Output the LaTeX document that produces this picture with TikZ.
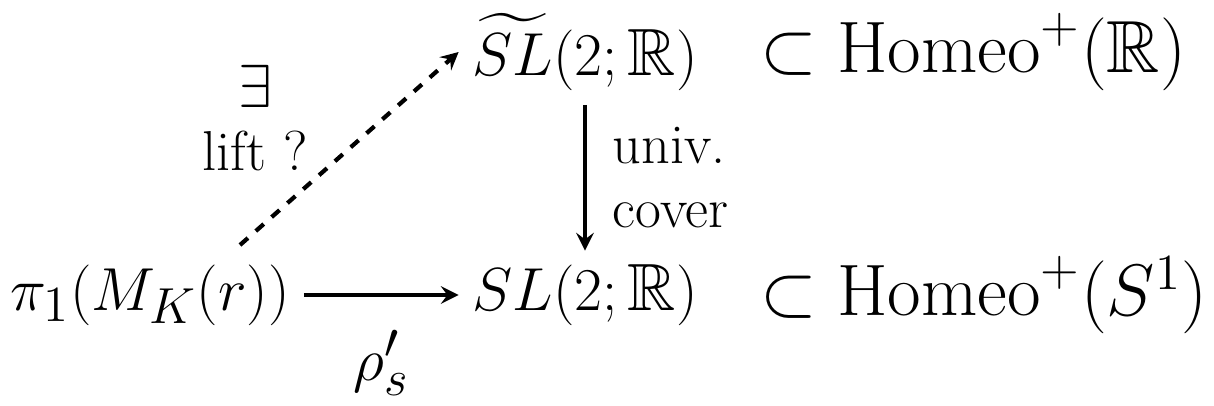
\documentclass[tikz,border=0pt]{standalone}
\usepackage{amsmath}
\usepackage{amssymb}
\usetikzlibrary{positioning}

\begin{document}
\begin{tikzpicture}[x=0.01cm, y=-0.01cm, >=stealth, line width=1.2pt,
    every node/.style={font=\fontsize{19}{23}\selectfont},
    lbl/.style={font=\fontsize{16}{18}\selectfont},
    incl/.style={font=\fontsize{21}{25}\selectfont}]
    \useasboundingbox (0,0) rectangle (1214,405);

    % groups
    \node (slt) at (585,52) {$\widetilde{SL}(2;\mathbb{R})$};
    \node[right=10pt of slt, incl] (homeoR) {$\subset \mathrm{Homeo}^{+}(\mathbb{R})$};
    \node (pi) at (150,295) {$\pi_1(M_K(r))$};
    \node (sl) at (585,295) {$SL(2;\mathbb{R})$};
    \node[right=10pt of sl, incl] (homeoS) {$\subset \mathrm{Homeo}^{+}(S^1)$};
    \coordinate (lstart) at (240,245);

    % maps
    \draw[->] (pi) -- node[below=6pt] {$\rho'_s$} (sl);
    \draw[->] (slt) -- node[right=4pt, lbl, align=left] {univ.\\cover} (sl);
    \draw[->, dashed] (lstart) -- (slt.west);
    \node[lbl, align=center] (lift) at (255,118) {$\exists$\\lift ?};
\end{tikzpicture}
\end{document}
